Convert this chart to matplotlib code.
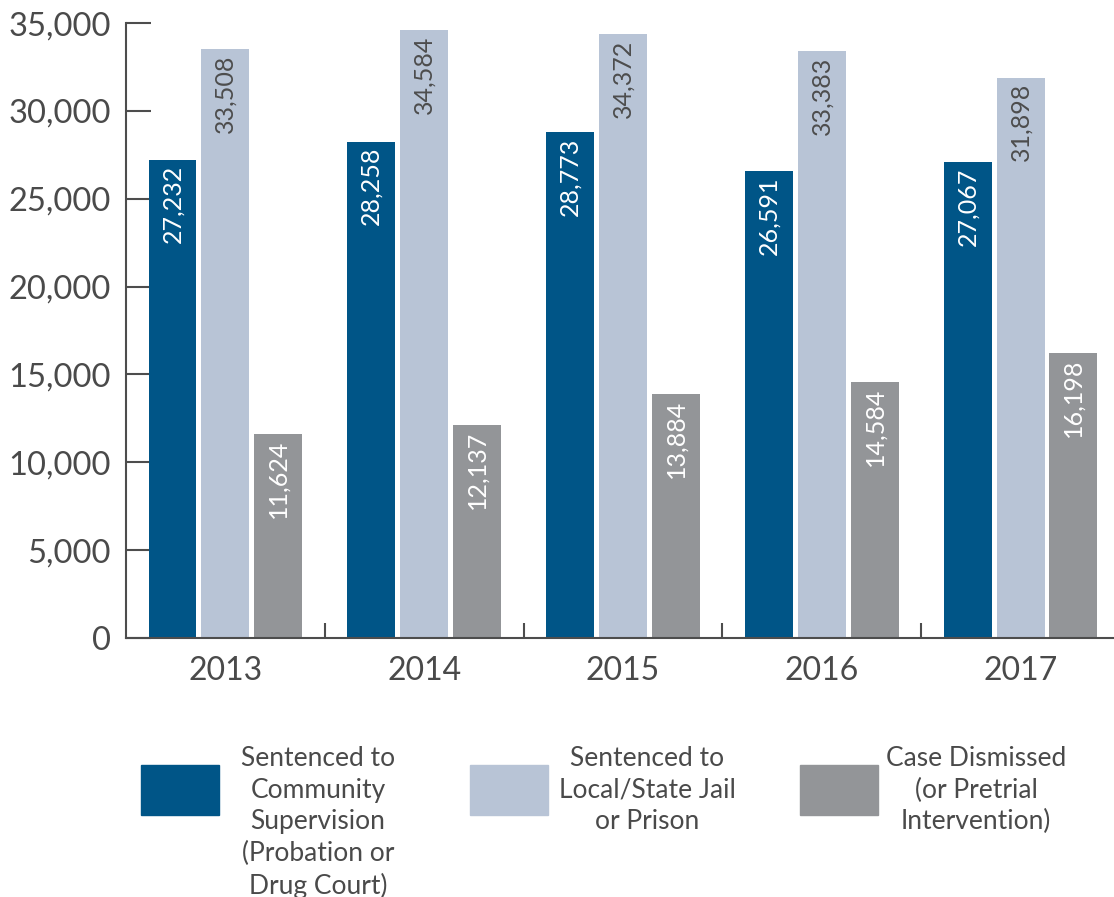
import numpy as np
import matplotlib
matplotlib.use("Agg")
import matplotlib.pyplot as plt
from matplotlib.patches import Rectangle

plt.rcParams['font.family'] = ['Lato', 'DejaVu Sans']

# dados
years = ["2013", "2014", "2015", "2016", "2017"]
community = [27232, 28258, 28773, 26591, 27067]
jail = [33508, 34584, 34372, 33383, 31898]
dismissed = [11624, 12137, 13884, 14584, 16198]

series_labels = [
    "Sentenced to\nCommunity\nSupervision\n(Probation or\nDrug Court)",
    "Sentenced to\nLocal/State Jail\nor Prison",
    "Case Dismissed\n(or Pretrial\nIntervention)",
]
colors = ["#005587", "#b8c4d6", "#939598"]
label_colors = ["white", "#4d4d4d", "white"]
text_color = "#4a4a4a"
axis_color = "#4d4d4d"

fig = plt.figure(figsize=(11.14, 8.97), dpi=100)
ax = fig.add_axes([0.1131, 0.2887, 0.8869, 0.6856])

x = np.arange(len(years))
width = 0.241
step = 0.266

for i, (vals, c, lc) in enumerate(zip([community, jail, dismissed], colors, label_colors)):
    pos = x + (i - 1) * step
    ax.bar(pos, vals, width=width, color=c, zorder=2)
    for xp, v in zip(pos, vals):
        ax.annotate(f"{v:,}", (xp, v), xytext=(0, -4), textcoords="offset points",
                    rotation=90, ha="center", va="top", fontsize=18, color=lc, zorder=3)

ax.set_xlim(-0.5, 4.47)
ax.set_ylim(0, 35000)
ax.set_yticks(np.arange(0, 35001, 5000))
ax.set_yticklabels([f"{v:,}" for v in range(0, 35001, 5000)])
ax.set_xticks(x)
ax.set_xticklabels(years)
ax.set_xticks(x[:-1] + 0.5, minor=True)

for s in ["top", "right"]:
    ax.spines[s].set_visible(False)
for s in ["left", "bottom"]:
    ax.spines[s].set_color(axis_color)
    ax.spines[s].set_linewidth(1.5)

ax.tick_params(axis="y", direction="in", length=18, width=1.5, color=axis_color,
               labelsize=23.5, labelcolor=text_color, pad=11)
ax.tick_params(axis="x", which="major", length=0, labelsize=23, labelcolor=text_color, pad=13)
ax.tick_params(axis="x", which="minor", direction="in", length=11, width=1.5, color=axis_color)

# legenda manual
W, H = 1114.0, 897.0
patch_x = [141, 470, 800]
text_x = [318, 647, 976]
for px, tx, c, lab in zip(patch_x, text_x, colors, series_labels):
    fig.patches.append(Rectangle((px / W, 1 - 815 / H), 78 / W, 50 / H,
                                 transform=fig.transFigure, color=c))
    fig.text(tx / W, 1 - 746 / H, lab, ha="center", va="top", fontsize=19,
             color=text_color, linespacing=1.33, multialignment="center")

fig.savefig("out.png", dpi=100)
